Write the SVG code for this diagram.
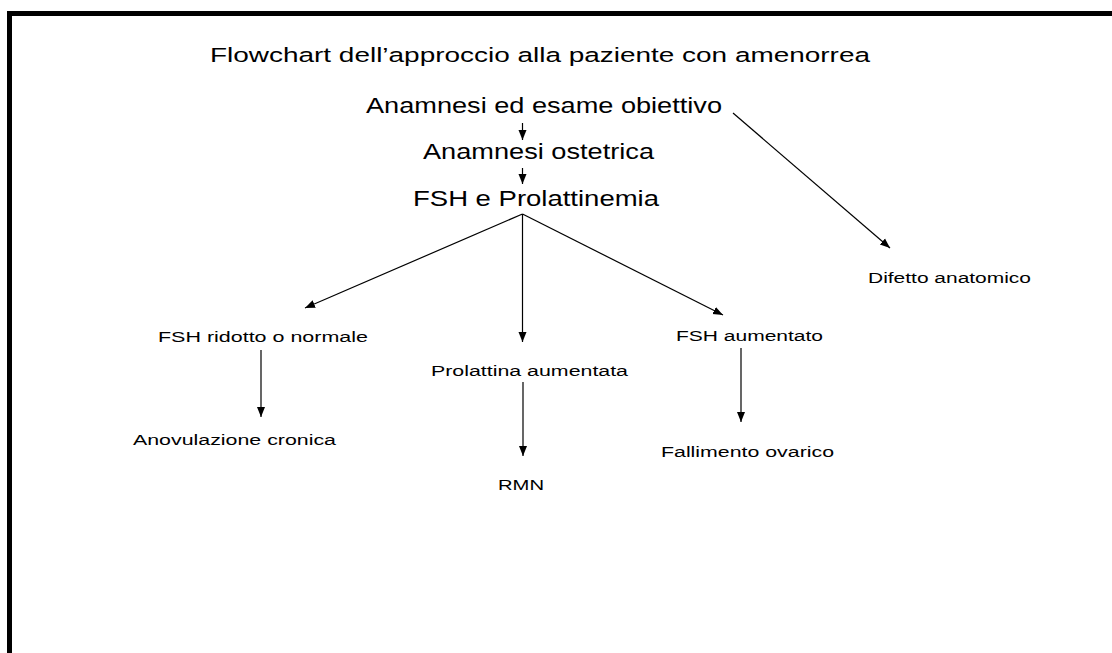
<svg xmlns="http://www.w3.org/2000/svg" width="1112" height="653" viewBox="0 0 1112 653">
<defs>
<style>
text{font-family:"Liberation Sans",Arial,sans-serif;fill:#000}
.big{font-size:22px}
.title{font-size:20.5px}
.small{font-size:15.5px}
.conn line{stroke:#000;stroke-width:1.2;fill:none}
</style>
<marker id="ah" markerUnits="userSpaceOnUse" markerWidth="10" markerHeight="10" viewBox="0 0 10 10" refX="10" refY="5" orient="auto">
<path d="M0,1 L10,5 L0,9 z" fill="#000"/>
</marker>
</defs>
<rect width="1112" height="653" fill="#fff"/>
<path d="M9.5,653 V13.5 H1112" fill="none" stroke="#000" stroke-width="5"/>
<text class="title" x="210" y="62" textLength="660" lengthAdjust="spacingAndGlyphs">Flowchart dell’approccio alla paziente con amenorrea</text>
<g id="n-anamnesi"><text class="big" x="366" y="113" textLength="356" lengthAdjust="spacingAndGlyphs">Anamnesi ed esame obiettivo</text></g>
<g id="n-ostetrica"><text class="big" x="423" y="159" textLength="231" lengthAdjust="spacingAndGlyphs">Anamnesi ostetrica</text></g>
<g id="n-fsh"><text class="big" x="413" y="206" textLength="246" lengthAdjust="spacingAndGlyphs">FSH e Prolattinemia</text></g>
<g id="n-ridotto"><text class="small" x="158" y="342" textLength="210" lengthAdjust="spacingAndGlyphs">FSH ridotto o normale</text></g>
<g id="n-prolattina"><text class="small" x="431" y="376" textLength="197" lengthAdjust="spacingAndGlyphs">Prolattina aumentata</text></g>
<g id="n-aumentato"><text class="small" x="676" y="341" textLength="147" lengthAdjust="spacingAndGlyphs">FSH aumentato</text></g>
<g id="n-anovulazione"><text class="small" x="133" y="445" textLength="203" lengthAdjust="spacingAndGlyphs">Anovulazione cronica</text></g>
<g id="n-rmn"><text class="small" x="498" y="490" textLength="46" lengthAdjust="spacingAndGlyphs">RMN</text></g>
<g id="n-fallimento"><text class="small" x="661" y="457" textLength="173" lengthAdjust="spacingAndGlyphs">Fallimento ovarico</text></g>
<g id="n-difetto"><text class="small" x="868" y="283" textLength="163" lengthAdjust="spacingAndGlyphs">Difetto anatomico</text></g>
<g id="connectors" class="conn">
<line x1="522.5" y1="123" x2="522.5" y2="140" marker-end="url(#ah)"/>
<line x1="522.5" y1="168" x2="522.5" y2="184" marker-end="url(#ah)"/>
<line x1="733" y1="113" x2="890" y2="248" marker-end="url(#ah)"/>
<line x1="522.5" y1="214" x2="305" y2="308" marker-end="url(#ah)"/>
<line x1="522.5" y1="214" x2="522.5" y2="342" marker-end="url(#ah)"/>
<line x1="522.5" y1="214" x2="723" y2="315" marker-end="url(#ah)"/>
<line x1="261" y1="350" x2="261" y2="417" marker-end="url(#ah)"/>
<line x1="523" y1="382" x2="523" y2="456" marker-end="url(#ah)"/>
<line x1="741" y1="348" x2="741" y2="422" marker-end="url(#ah)"/>
</g>
</svg>
